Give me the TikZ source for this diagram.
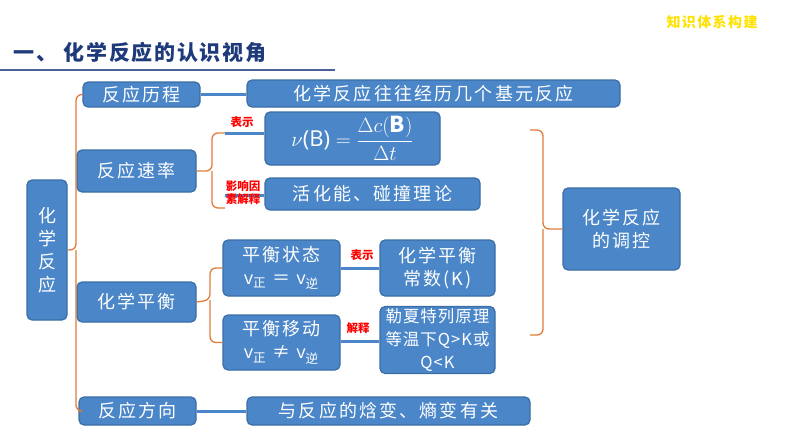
\documentclass[tikz,border=0pt]{standalone}
\usepackage{fontspec}
\setmainfont{Noto Sans CJK SC}
\newfontfamily\lat{Open Sans}
\usetikzlibrary{calc}
\definecolor{bfill}{HTML}{4A86C8}
\definecolor{bdraw}{HTML}{3A6EA5}
\definecolor{brc}{HTML}{E07B39}
\definecolor{ttl}{HTML}{1F3A7A}
\tikzset{
 bx/.style={draw=bdraw,fill=bfill,line width=1.2pt,rounded corners=5pt,text=white,font=\fontsize{18}{23}\selectfont\addfontfeature{LetterSpace=12},align=center,inner sep=2pt},
 ln/.style={draw=bfill,line width=3pt},
 br/.style={draw=brc,line width=1.3pt,rounded corners=6pt},
 lab/.style={text=red,font=\bfseries\fontsize{11.5}{13}\selectfont,align=left,inner sep=0pt}
}
\newcommand{\bxat}[6]{\node[bx,minimum width=#4-#2,minimum height=#5-#3] (#1) at ({(#2+#4)/2},{(#3+#5)/2}) {#6};}
\newcommand{\sm}{\fontsize{16.5}{19}\selectfont\addfontfeature{LetterSpace=6}}
\begin{document}
\begin{tikzpicture}[x=1pt,y=-1pt]
\useasboundingbox (0,0) rectangle (794,447);
\node[text=yellow!85!orange,font=\bfseries\fontsize{14}{16}\selectfont\addfontfeature{LetterSpace=10}] (tr) at (712,22) {知识体系构建};
\node[text=ttl,font=\bfseries\fontsize{21}{24}\selectfont\addfontfeature{LetterSpace=8},anchor=west] (title) at (10,52) {一、 化学反应的认识视角};
\coordinate (ul1) at (0,70); \coordinate (ul2) at (335,70);
\draw[line width=2pt,draw=ttl!80] (ul1) -- (ul2);
\bxat{hx}{27}{180}{67}{320}{化\\学\\反\\应}
\bxat{lc}{83}{82}{200}{107}{反应历程}
\bxat{lcr}{247}{80}{620}{107}{化学反应往往经历几个基元反应}
\bxat{sl}{77}{150}{196}{192}{反应速率}
\bxat{fm}{265}{112}{440}{165}{\lat\fontsize{22}{24}\selectfont $\nu$(B) $=\displaystyle\frac{\Delta c(\mathbf{B})}{\Delta t}$}
\bxat{hh}{265}{178}{480}{210}{活化能、碰撞理论}
\bxat{ph}{77}{282}{196}{322}{化学平衡}
\bxat{zt}{223}{240}{340}{296}{平衡状态\\{\lat v}\textsubscript{正} ＝ {\lat v}\textsubscript{逆}}
\bxat{cs}{380}{240}{495}{296}{化学平衡\\常数(K)}
\bxat{yd}{223}{315}{340}{370}{平衡移动\\{\lat v}\textsubscript{正} ≠ {\lat v}\textsubscript{逆}}
\bxat{lx}{380}{308}{495}{372}{\sm 勒夏特列原理\\\sm 等温下Q>K或\\\sm Q<K}
\bxat{fx}{79}{397}{196}{425}{反应方向}
\bxat{hb}{247}{397}{530}{425}{与反应的焓变、熵变有关}
\bxat{tk}{563}{188}{680}{270}{化学反应\\的调控}
% braces
\draw[br] (lc.west) -| (76,250) -- (hx.east);
\draw[br] (fx.west) -| (76,250);
\draw[br] (225,133) -- (212,133) -- (212,171) -- (sl.east);
\draw[br] (225,208) -- (212,208) -- (212,171);
\draw[br] (zt.west) -| (210,300) -- (ph.east);
\draw[br] (yd.west) -| (210,300);
\draw[br] (530,130) -- (543,130) -- (543,229) -- (tk.west);
\draw[br] (530,335) -- (543,335) -- (543,229);
% connectors
\draw[ln] (lc.east) -- (lc.east-|lcr.west);
\coordinate (a1) at (225,133); \draw[ln] (a1) -- (a1-|fm.west);
\coordinate (a2) at (225,195); \draw[ln] (a2) -- (a2-|hh.west);
\draw[ln] (zt.east|-0,268) -- (cs.west|-0,268);
\draw[ln] (yd.east|-0,341) -- (lx.west|-0,341);
\draw[ln] (fx.east) -- (hb.west);
\node[lab] (l1) at (242,122) {表示};
\node[lab] (l2) at (243,193) {影响因\\素解释};
\node[lab] (l3) at (362,255) {表示};
\node[lab] (l4) at (358,328) {解释};
\end{tikzpicture}
\end{document}
